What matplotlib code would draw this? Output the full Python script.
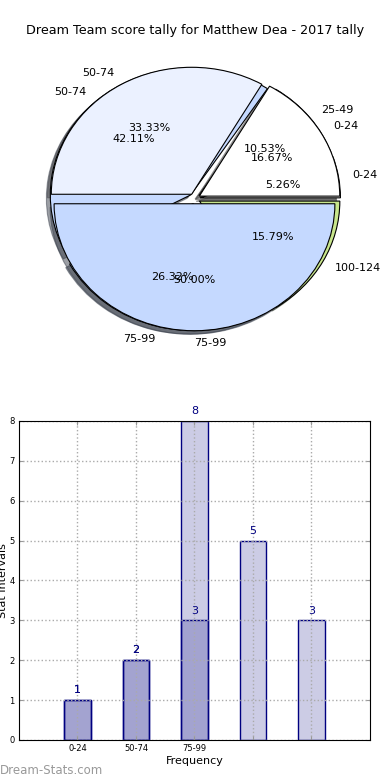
import matplotlib
matplotlib.use('Agg')
import matplotlib.pyplot as plt

# Data
title = 'Dream Team score tally for Matthew Dea - 2017 tally'

all_labels = ['0-24', '25-49', '50-74', '75-99', '100-124']
all_counts = [1, 2, 8, 5, 3]

team_labels = ['0-24', '50-74', '75-99']
team_counts = [1, 2, 3]

pie_colors = ['#ffffff', '#ebf1ff', '#c5d9ff', '#a8c0ee', '#c8e68c']

bar_ticks = ['0-24', '50-74', '75-99', '', '']

fig = plt.figure(figsize=(3.9, 7.8), dpi=100)
fig.text(0.5, 0.961, title, ha='center', va='center', fontsize=9.2)

# Pie: two series drawn on top of each other
ax1 = fig.add_axes([0.0487, 0.5418, 0.9, 0.407])
ax1.pie(all_counts, labels=all_labels, colors=pie_colors[:len(all_counts)],
        explode=[0.04] * len(all_counts), autopct='%.2f%%', shadow=True,
        wedgeprops={'edgecolor': 'black', 'linewidth': 0.8},
        textprops={'fontsize': 8})
ax1.pie(team_counts, labels=team_labels, colors=pie_colors[:len(team_counts)],
        explode=[0.04] * len(team_counts), autopct='%.2f%%', shadow=True,
        wedgeprops={'edgecolor': 'black', 'linewidth': 0.8},
        textprops={'fontsize': 8})
ax1.set_aspect('auto')
ax1.set_xlim(-1.25, 1.25)
ax1.set_ylim(-1.25, 1.25)

# Bars: same two series
ax2 = fig.add_axes([0.0487, 0.0513, 0.9, 0.409])
x_all = list(range(len(all_counts)))
x_team = list(range(len(team_counts)))
ax2.bar(x_all, all_counts, width=0.45, color='navy', alpha=0.2)
ax2.bar(x_all, all_counts, width=0.45, fill=False, edgecolor='navy', linewidth=1)
ax2.bar(x_team, team_counts, width=0.45, color='navy', alpha=0.2)
ax2.bar(x_team, team_counts, width=0.45, fill=False, edgecolor='navy', linewidth=1)

for x, h in zip(x_all, all_counts):
    ax2.text(x, h + 0.12, str(h), ha='center', va='bottom', color='navy', fontsize=8)
for x, h in zip(x_team, team_counts):
    ax2.text(x, h + 0.12, str(h), ha='center', va='bottom', color='navy', fontsize=8)

ax2.set_xlim(-1, 5)
ax2.set_ylim(0, 8)
ax2.set_xticks(x_all)
ax2.set_xticklabels(bar_ticks, fontsize=6)
ax2.set_yticks(range(9))
ax2.tick_params(axis='y', labelsize=6)
ax2.tick_params(direction='in', length=3, top=True, right=True, color='#999999', pad=3)
ax2.grid(True, linestyle=':', color='#aaaaaa', linewidth=1)
ax2.set_xlabel('Frequency', fontsize=8, labelpad=2)
ax2.set_ylabel('Stat Intervals', fontsize=8, labelpad=1)

fig.text(0.0, 0.0128, 'Dream-Stats.com', ha='left', va='center', fontsize=8.5,
         color='#999999')

fig.savefig('out.png', dpi=100)
